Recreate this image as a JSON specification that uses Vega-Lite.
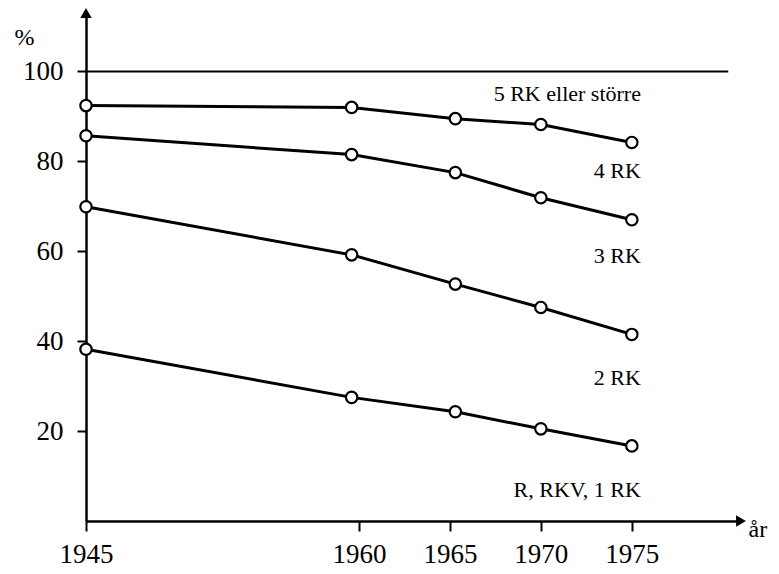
{
  "$schema": "https://vega.github.io/schema/vega-lite/v6.json",
  "autosize": "none",
  "width": 655,
  "height": 508,
  "padding": {"left": 86, "top": 13, "right": 38, "bottom": 53},
  "background": "white",
  "config": {
    "view": {"stroke": null},
    "font": "Liberation Serif",
    "axis": {"grid": false, "domainColor": "black", "domainWidth": 2.5, "tickColor": "black", "tickWidth": 2, "labelColor": "black", "titleColor": "black", "labelFont": "Liberation Serif", "titleFont": "Liberation Serif", "titleFontWeight": "normal"}
  },
  "datasets": {
    "series": [
      {"rooms": "5 RK eller större", "year": 1945, "pct": 92.4},
      {"rooms": "5 RK eller större", "year": 1959.6, "pct": 92.0},
      {"rooms": "5 RK eller större", "year": 1965.3, "pct": 89.5},
      {"rooms": "5 RK eller större", "year": 1970, "pct": 88.2},
      {"rooms": "5 RK eller större", "year": 1975, "pct": 84.2},
      {"rooms": "4 RK", "year": 1945, "pct": 85.7},
      {"rooms": "4 RK", "year": 1959.6, "pct": 81.5},
      {"rooms": "4 RK", "year": 1965.3, "pct": 77.5},
      {"rooms": "4 RK", "year": 1970, "pct": 71.9},
      {"rooms": "4 RK", "year": 1975, "pct": 67.0},
      {"rooms": "3 RK", "year": 1945, "pct": 69.9},
      {"rooms": "3 RK", "year": 1959.6, "pct": 59.2},
      {"rooms": "3 RK", "year": 1965.3, "pct": 52.7},
      {"rooms": "3 RK", "year": 1970, "pct": 47.5},
      {"rooms": "3 RK", "year": 1975, "pct": 41.5},
      {"rooms": "2 RK", "year": 1945, "pct": 38.2},
      {"rooms": "2 RK", "year": 1959.6, "pct": 27.5},
      {"rooms": "2 RK", "year": 1965.3, "pct": 24.3},
      {"rooms": "2 RK", "year": 1970, "pct": 20.5},
      {"rooms": "2 RK", "year": 1975, "pct": 16.7}
    ],
    "labels": [
      {"label": "5 RK eller större", "year": 1975.5, "pct": 94.9},
      {"label": "4 RK", "year": 1975.5, "pct": 77.9},
      {"label": "3 RK", "year": 1975.5, "pct": 58.9},
      {"label": "2 RK", "year": 1975.5, "pct": 31.9},
      {"label": "R, RKV, 1 RK", "year": 1975.5, "pct": 6.9}
    ],
    "ref": [{"year": 1945, "year2": 1980.3, "pct": 100}],
    "arrows": [
      {"year": 1945, "pct": 113, "shape": "triangle-up"},
      {"year": 1981, "pct": 0, "shape": "triangle-right"}
    ]
  },
  "encoding": {
    "x": {
      "field": "year", "type": "quantitative",
      "scale": {"domain": [1945, 1981], "nice": false, "zero": false},
      "axis": {"values": [1945, 1960, 1965, 1970, 1975], "format": "d", "tickSize": 10, "labelFontSize": 27, "labelPadding": 10, "labelFlush": false, "title": "år", "titleFontSize": 24, "titleAlign": "left", "titleBaseline": "middle", "titleX": 662, "titleY": 8, "titleAngle": 0}
    },
    "y": {
      "field": "pct", "type": "quantitative",
      "scale": {"domain": [0, 113], "nice": false},
      "axis": {"values": [20, 40, 60, 80, 100], "tickSize": 9, "labelFontSize": 27, "labelPadding": 14, "title": "%", "titleFontSize": 24, "titleAngle": 0, "titleAlign": "center", "titleBaseline": "middle", "titleX": -62, "titleY": 24}
    }
  },
  "layer": [
    {
      "data": {"name": "ref"},
      "mark": {"type": "rule", "color": "black", "strokeWidth": 2},
      "encoding": {"x2": {"field": "year2"}}
    },
    {
      "data": {"name": "series"},
      "mark": {"type": "line", "color": "black", "strokeWidth": 3},
      "encoding": {"detail": {"field": "rooms"}}
    },
    {
      "data": {"name": "series"},
      "mark": {"type": "point", "shape": "circle", "filled": true, "fill": "white", "stroke": "black", "strokeWidth": 2.2, "size": 130, "opacity": 1}
    },
    {
      "data": {"name": "labels"},
      "mark": {"type": "text", "align": "right", "baseline": "middle", "fontSize": 22, "color": "black", "font": "Liberation Serif"},
      "encoding": {"text": {"field": "label"}}
    },
    {
      "data": {"name": "arrows"},
      "mark": {"type": "point", "filled": true, "color": "black", "size": 130, "opacity": 1},
      "encoding": {"shape": {"field": "shape", "type": "nominal", "scale": null}}
    }
  ]
}
